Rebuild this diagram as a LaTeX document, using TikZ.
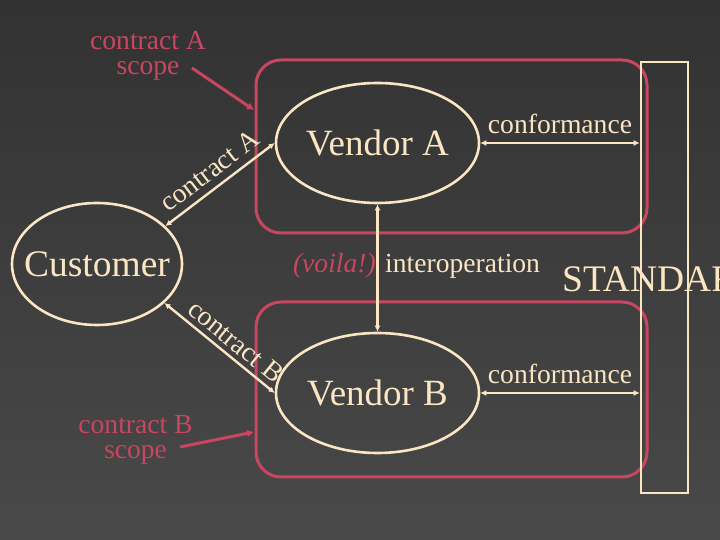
\documentclass[tikz,border=0pt]{standalone}
\usepackage{fontspec}
\setmainfont{Liberation Serif}
\usetikzlibrary{shapes.geometric,arrows.meta}
\definecolor{cream}{RGB}{250,230,195}
\definecolor{scopered}{RGB}{200,70,95}
\definecolor{bgtop}{RGB}{50,50,50}
\definecolor{bgbot}{RGB}{73,73,73}
\tikzset{
  party/.style={ellipse,draw=cream,line width=2.6pt,inner sep=0pt},
  partytext/.style={text=cream,font=\fontsize{36.5}{40}\selectfont,inner sep=0pt},
  scopebox/.style={rectangle,draw=scopered,line width=3pt,rounded corners=25pt,inner sep=0pt},
  stdbox/.style={rectangle,draw=cream,line width=2.6pt,inner sep=0pt},
  link/.style={draw=cream,line width=2.4pt,{Latex[length=6pt,width=6pt]}-{Latex[length=6pt,width=6pt]}},
  redarrow/.style={draw=scopered,line width=3pt,-{Latex[length=7pt,width=8pt]}},
  lbl/.style={text=cream,font=\fontsize{27.6}{30}\selectfont,inner sep=0pt},
  redlbl/.style={text=scopered,font=\fontsize{27.6}{25}\selectfont,inner sep=0pt,align=center},
}
\begin{document}
\begin{tikzpicture}[x=1pt,y=1pt]
\useasboundingbox (0,0) rectangle (720,540);
\shade[top color=bgtop,bottom color=bgbot] (0,0) rectangle (720,540);
\clip (0,0) rectangle (720,540);
% scope boxes
\node[scopebox,minimum width=391pt,minimum height=173pt] (boxA) at (451.5,393.5) {};
\node[scopebox,minimum width=391pt,minimum height=175pt] (boxB) at (451.5,150.5) {};
% standard
\node[lbl,anchor=base west,font=\fontsize{37.5}{42}\selectfont] (stdtxt) at (562,248) {STANDARD};
\node[stdbox,minimum width=47pt,minimum height=431pt] (std) at (664.5,262.5) {};
% parties
\node[party,minimum width=203pt,minimum height=120pt,
      label={[partytext,font=\fontsize{37}{40}\selectfont]center:Vendor A}] (va) at (377.5,397) {};
\node[party,minimum width=203pt,minimum height=120pt,
      label={[partytext,font=\fontsize{37}{40}\selectfont]center:Vendor B}] (vb) at (377.5,147) {};
\node[party,minimum width=170pt,minimum height=122pt,
      label={[partytext,font=\fontsize{37.5}{40}\selectfont]center:Customer}] (cust) at (97,276) {};
% contracts
\draw[link] (cust.29) -- node[lbl,sloped,above=7pt,pos=0.5] (ca) {contract A} (va.180);
\draw[link] (cust.-30) -- node[lbl,sloped,above=5pt,pos=0.56] (cb) {contract B} (vb.west);
% conformance
\draw[link] (va.east) -- node[lbl,above=8pt,pos=0.5] (confA) {conformance} (va.east -| std.west);
\draw[link] (vb.east) -- node[lbl,above=8pt,pos=0.5] (confB) {conformance} (vb.east -| std.west);
% interoperation
\draw[link] (va.south) -- (vb.north);
\node[lbl,anchor=base west] (interop) at (385,267) {interoperation};
\node[lbl,anchor=base east,text=scopered] (voila) at (376,267) {\itshape (voila!)};
% scope labels
\node[redlbl] (sa) at (148,484) {contract A\\scope};
\node[redlbl] (sb) at (135.5,100.5) {contract B\\scope};
\coordinate (saTail) at (192,472);
\coordinate (saHead) at (254,430);
\coordinate (sbTail) at (180,93);
\coordinate (sbHead) at (254,108);
\draw[redarrow] (saTail) -- (saHead);
\draw[redarrow] (sbTail) -- (sbHead);
\end{tikzpicture}
\end{document}
